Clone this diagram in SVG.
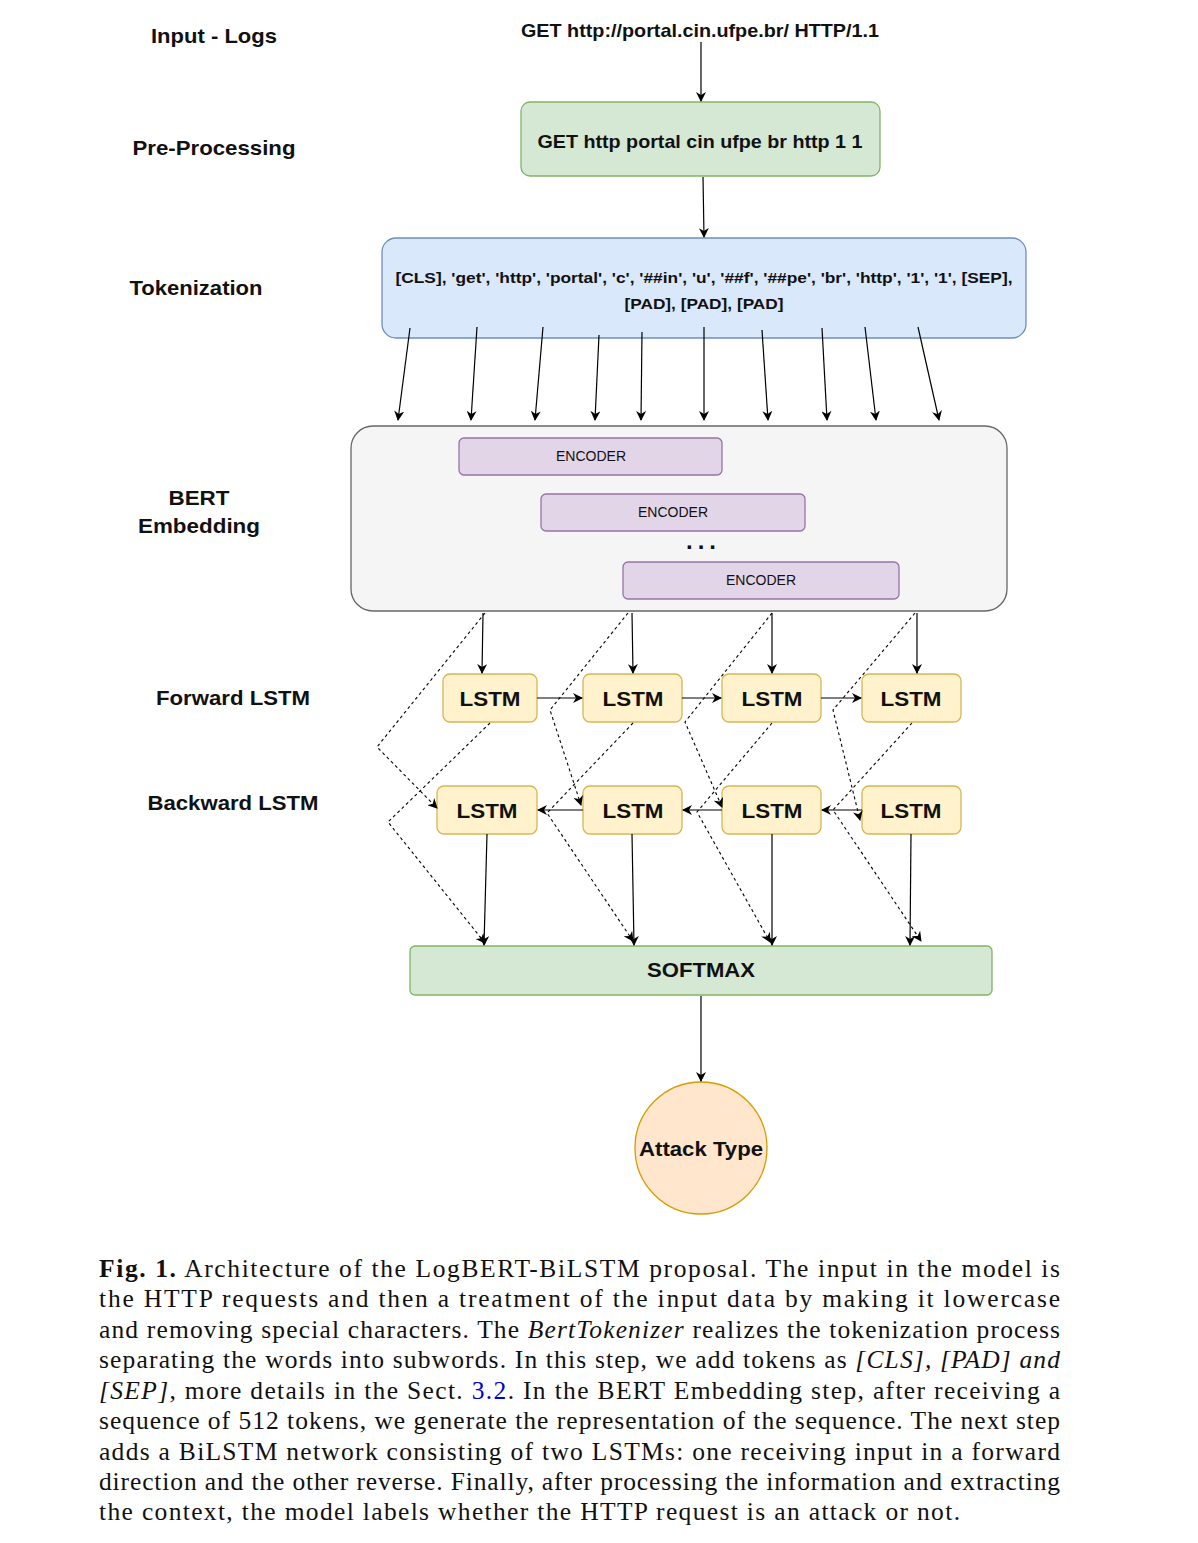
<svg xmlns="http://www.w3.org/2000/svg" width="1198" height="1543" viewBox="0 0 1198 1543">
<style>
.lbl{font-family:"Liberation Sans",Arial,sans-serif;font-weight:bold;fill:#111;text-anchor:middle}
.l20{font-size:20.5px}
.l18{font-size:19px}
.tok{font-family:"Liberation Sans",Arial,sans-serif;font-weight:bold;font-size:15px;fill:#111;text-anchor:middle}
.enc{font-family:"Liberation Sans",Arial,sans-serif;font-size:14px;fill:#111;text-anchor:middle}
.green{fill:#d5e8d4;stroke:#82b366;stroke-width:1.3}
.blue{fill:#dae8fc;stroke:#6c8ebf;stroke-width:1.3}
.grey{fill:#f5f5f5;stroke:#666666;stroke-width:1.3}
.purple{fill:#e1d5e7;stroke:#9673a6;stroke-width:1.3}
.yellow{fill:#fff2cc;stroke:#d6b656;stroke-width:1.3}
.orange{fill:#ffe6cc;stroke:#d79b00;stroke-width:1.3}
.c{fill:none;stroke:#000;stroke-width:1.2;marker-end:url(#arr)}
.d{fill:none;stroke:#000;stroke-width:1.1;stroke-dasharray:3 3;marker-end:url(#arr)}
.cap{font-family:"Liberation Serif","Times New Roman",serif;font-size:25.5px;fill:#111}
</style>
<defs>
<marker id="arr" viewBox="0 0 10 10" refX="9" refY="5" markerWidth="10" markerHeight="10" markerUnits="userSpaceOnUse" orient="auto">
<path d="M0,0 L10,5 L0,10 L3,5 z" fill="#000"/>
</marker>
</defs>
<rect width="1198" height="1543" fill="#fff"/>

<g id="row-labels">
<text class="lbl l20" x="214" y="43" textLength="126" lengthAdjust="spacingAndGlyphs">Input - Logs</text>
<text class="lbl l20" x="214" y="155" textLength="163" lengthAdjust="spacingAndGlyphs">Pre-Processing</text>
<text class="lbl l20" x="196" y="295" textLength="133" lengthAdjust="spacingAndGlyphs">Tokenization</text>
<text class="lbl l20" x="199" y="505" textLength="61" lengthAdjust="spacingAndGlyphs">BERT</text>
<text class="lbl l20" x="199" y="533" textLength="122" lengthAdjust="spacingAndGlyphs">Embedding</text>
<text class="lbl l20" x="233" y="705" textLength="154" lengthAdjust="spacingAndGlyphs">Forward LSTM</text>
<text class="lbl l20" x="233" y="810" textLength="171" lengthAdjust="spacingAndGlyphs">Backward LSTM</text>
</g>

<g id="input">
<text class="lbl l18" x="700" y="37" textLength="358" lengthAdjust="spacingAndGlyphs">GET http://portal.cin.ufpe.br/ HTTP/1.1</text>
</g>

<g id="preprocessing">
<rect class="green" x="521" y="102" width="359" height="74" rx="9"/>
<text class="lbl l18" x="700" y="148" textLength="325" lengthAdjust="spacingAndGlyphs">GET http portal cin ufpe br http 1 1</text>
</g>

<g id="tokenization">
<rect class="blue" x="382" y="238" width="644" height="100" rx="14"/>
<text class="tok" x="704" y="283" textLength="617" lengthAdjust="spacingAndGlyphs">[CLS], 'get', 'http', 'portal', 'c', '##in', 'u', '##f', '##pe', 'br', 'http', '1', '1', [SEP],</text>
<text class="tok" x="704" y="309" textLength="159" lengthAdjust="spacingAndGlyphs">[PAD], [PAD], [PAD]</text>
</g>

<g id="bert">
<rect class="grey" x="351" y="426" width="656" height="185" rx="22"/>
</g>
<g id="encoder1">
<rect class="purple" x="459" y="438" width="263" height="37" rx="5"/>
<text class="enc" x="591" y="461">ENCODER</text>
</g>
<g id="encoder2">
<rect class="purple" x="541" y="494" width="264" height="37" rx="5"/>
<text class="enc" x="673" y="517">ENCODER</text>
</g>
<g id="ellipsis">
<text class="lbl" style="font-size:24px" x="701" y="549" textLength="30" lengthAdjust="spacing">...</text>
</g>
<g id="encoder3">
<rect class="purple" x="623" y="562" width="276" height="37" rx="5"/>
<text class="enc" x="761" y="585">ENCODER</text>
</g>

<g id="fwd1"><rect class="yellow" x="443" y="674" width="94" height="48" rx="7"/><text class="lbl l20" x="490" y="706" textLength="61" lengthAdjust="spacingAndGlyphs">LSTM</text></g>
<g id="fwd2"><rect class="yellow" x="583" y="674" width="99" height="48" rx="7"/><text class="lbl l20" x="633" y="706" textLength="61" lengthAdjust="spacingAndGlyphs">LSTM</text></g>
<g id="fwd3"><rect class="yellow" x="722" y="674" width="99" height="48" rx="7"/><text class="lbl l20" x="772" y="706" textLength="61" lengthAdjust="spacingAndGlyphs">LSTM</text></g>
<g id="fwd4"><rect class="yellow" x="862" y="674" width="99" height="48" rx="7"/><text class="lbl l20" x="911" y="706" textLength="61" lengthAdjust="spacingAndGlyphs">LSTM</text></g>

<g id="bwd1"><rect class="yellow" x="437" y="786" width="100" height="48" rx="7"/><text class="lbl l20" x="487" y="818" textLength="61" lengthAdjust="spacingAndGlyphs">LSTM</text></g>
<g id="bwd2"><rect class="yellow" x="583" y="786" width="99" height="48" rx="7"/><text class="lbl l20" x="633" y="818" textLength="61" lengthAdjust="spacingAndGlyphs">LSTM</text></g>
<g id="bwd3"><rect class="yellow" x="722" y="786" width="99" height="48" rx="7"/><text class="lbl l20" x="772" y="818" textLength="61" lengthAdjust="spacingAndGlyphs">LSTM</text></g>
<g id="bwd4"><rect class="yellow" x="862" y="786" width="99" height="48" rx="7"/><text class="lbl l20" x="911" y="818" textLength="61" lengthAdjust="spacingAndGlyphs">LSTM</text></g>

<g id="softmax">
<rect class="green" x="410" y="946" width="582" height="49" rx="5"/>
<text class="lbl l20" x="701" y="977" textLength="108" lengthAdjust="spacingAndGlyphs">SOFTMAX</text>
</g>

<g id="attack-type">
<circle class="orange" cx="701" cy="1148" r="66"/>
<text class="lbl l20" x="701" y="1156" textLength="124" lengthAdjust="spacingAndGlyphs">Attack Type</text>
</g>

<g id="connectors">
<path class="c" d="M701,42 L701,101"/>
<path class="c" d="M703,177 L704,237"/>
<path class="c" d="M410,328 L398,420"/>
<path class="c" d="M477,327 L471,420"/>
<path class="c" d="M543,327 L535,420"/>
<path class="c" d="M599,335 L595,420"/>
<path class="c" d="M642,332 L641,420"/>
<path class="c" d="M704,327 L704,420"/>
<path class="c" d="M762,330 L768,420"/>
<path class="c" d="M822,328 L827,420"/>
<path class="c" d="M865,327 L876,420"/>
<path class="c" d="M918,327 L939,420"/>

<path class="c" d="M483,613 L482,673"/>
<path class="c" d="M632,613 L633,673"/>
<path class="c" d="M772,613 L772,673"/>
<path class="c" d="M917,613 L917,673"/>

<path class="c" d="M537,698 L582,698"/>
<path class="c" d="M682,698 L721,698"/>
<path class="c" d="M821,698 L861,698"/>

<path class="c" d="M583,810 L538,810"/>
<path class="c" d="M722,810 L683,810"/>
<path class="c" d="M862,810 L822,810"/>

<path class="c" d="M487,834 L484,945"/>
<path class="c" d="M632,834 L634,945"/>
<path class="c" d="M772,834 L772,945"/>
<path class="c" d="M911,834 L910,945"/>

<path class="c" d="M701,996 L701,1081"/>

<path class="d" d="M485,613 L377,747 L437,808"/>
<path class="d" d="M490,723 L388,822 L485,943"/>
<path class="d" d="M628,613 L550,710 L581,805"/>
<path class="d" d="M633,723 L547,813 L633,941"/>
<path class="d" d="M772,613 L685,722 L722,807"/>
<path class="d" d="M772,723 L697,812 L770,942"/>
<path class="d" d="M915,613 L833,710 L860,820"/>
<path class="d" d="M912,723 L833,810 L921,941"/>
</g>

<g id="caption">
<text class="cap" x="99" y="1277" textLength="961" lengthAdjust="spacing"><tspan font-weight="bold">Fig. 1.</tspan> Architecture of the LogBERT-BiLSTM proposal. The input in the model is</text>
<text class="cap" x="99" y="1307" textLength="961" lengthAdjust="spacing">the HTTP requests and then a treatment of the input data by making it lowercase</text>
<text class="cap" x="99" y="1338" textLength="961" lengthAdjust="spacing">and removing special characters. The <tspan font-style="italic">BertTokenizer</tspan> realizes the tokenization process</text>
<text class="cap" x="99" y="1368" textLength="961" lengthAdjust="spacing">separating the words into subwords. In this step, we add tokens as <tspan font-style="italic">[CLS], [PAD] and</tspan></text>
<text class="cap" x="99" y="1399" textLength="961" lengthAdjust="spacing"><tspan font-style="italic">[SEP]</tspan>, more details in the Sect. <tspan fill="#0000cc">3.2</tspan>. In the BERT Embedding step, after receiving a</text>
<text class="cap" x="99" y="1429" textLength="961" lengthAdjust="spacing">sequence of 512 tokens, we generate the representation of the sequence. The next step</text>
<text class="cap" x="99" y="1460" textLength="961" lengthAdjust="spacing">adds a BiLSTM network consisting of two LSTMs: one receiving input in a forward</text>
<text class="cap" x="99" y="1490" textLength="961" lengthAdjust="spacing">direction and the other reverse. Finally, after processing the information and extracting</text>
<text class="cap" x="99" y="1520" textLength="861" lengthAdjust="spacing">the context, the model labels whether the HTTP request is an attack or not.</text>
</g>
</svg>
